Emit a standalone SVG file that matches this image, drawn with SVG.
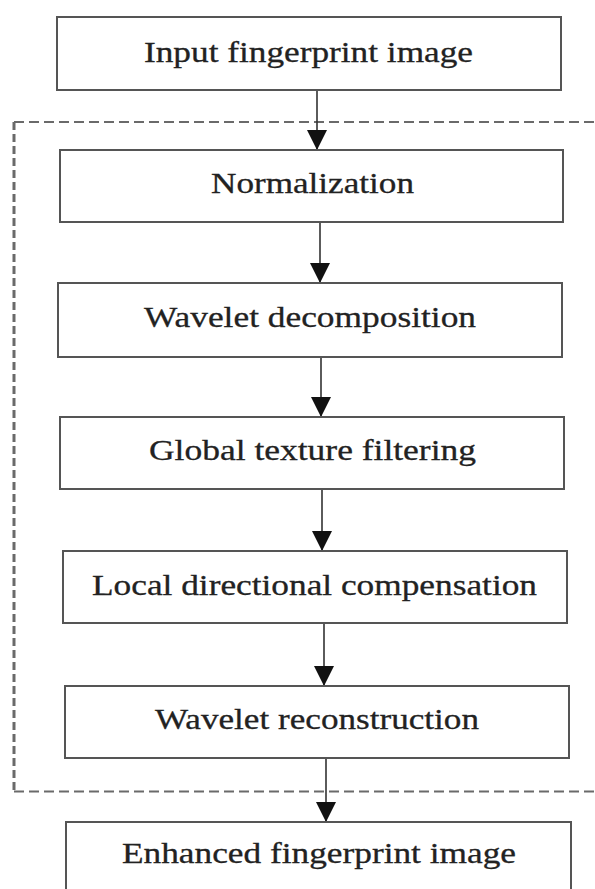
<svg xmlns="http://www.w3.org/2000/svg" width="595" height="889" viewBox="0 0 595 889">
<style>
.box{fill:#fff;stroke:#555;stroke-width:2}
.lbl{font-family:"Liberation Serif","Times New Roman",serif;font-size:30px;fill:#222;stroke:#222;stroke-width:0.3;text-anchor:start}
.conn{stroke:#333;stroke-width:1.6;fill:none}
.dashh{stroke:#6a6a6a;stroke-width:2.2;fill:none;stroke-dasharray:10 5}
.dashv{stroke:#6a6a6a;stroke-width:3;fill:none;stroke-dasharray:8 4}
</style>
<defs>
<marker id="ah" markerWidth="22" markerHeight="20" refX="22" refY="11" orient="auto" markerUnits="userSpaceOnUse" viewBox="0 0 22 22">
<path d="M0,0 L22,11 L0,22 Z" fill="#111"/>
</marker>
</defs>
<rect width="595" height="889" fill="#fff"/>
<g id="boundary">
<line class="dashh" x1="14" y1="122" x2="600" y2="122"/>
<line class="dashv" x1="14" y1="122" x2="14" y2="791"/>
<line class="dashh" x1="14" y1="791.5" x2="600" y2="791.5"/>
</g>
<g id="connectors">
<line class="conn" x1="317" y1="90" x2="317" y2="150" marker-end="url(#ah)"/>
<line class="conn" x1="320" y1="222" x2="320" y2="283" marker-end="url(#ah)"/>
<line class="conn" x1="321" y1="357" x2="321" y2="417" marker-end="url(#ah)"/>
<line class="conn" x1="322" y1="489" x2="322" y2="551" marker-end="url(#ah)"/>
<line class="conn" x1="324" y1="623" x2="324" y2="686" marker-end="url(#ah)"/>
<line class="conn" x1="326" y1="758" x2="326" y2="822" marker-end="url(#ah)"/>
</g>
<g id="n1">
<rect class="box" x="57" y="17" width="504" height="73"/>
<text class="lbl" x="144" y="62" textLength="329" lengthAdjust="spacingAndGlyphs">Input fingerprint image</text>
</g>
<g id="n2">
<rect class="box" x="60" y="150" width="503" height="72"/>
<text class="lbl" x="211" y="193" textLength="203" lengthAdjust="spacingAndGlyphs">Normalization</text>
</g>
<g id="n3">
<rect class="box" x="58" y="283" width="504" height="74"/>
<text class="lbl" x="144" y="327" textLength="332" lengthAdjust="spacingAndGlyphs">Wavelet decomposition</text>
</g>
<g id="n4">
<rect class="box" x="60" y="417" width="504" height="72"/>
<text class="lbl" x="149" y="460" textLength="327" lengthAdjust="spacingAndGlyphs">Global texture filtering</text>
</g>
<g id="n5">
<rect class="box" x="63" y="551" width="504" height="72"/>
<text class="lbl" x="92" y="595" textLength="445" lengthAdjust="spacingAndGlyphs">Local directional compensation</text>
</g>
<g id="n6">
<rect class="box" x="65" y="686" width="504" height="72"/>
<text class="lbl" x="155" y="729" textLength="324" lengthAdjust="spacingAndGlyphs">Wavelet reconstruction</text>
</g>
<g id="n7">
<rect class="box" x="66" y="822" width="505" height="74"/>
<text class="lbl" x="122" y="863" textLength="394" lengthAdjust="spacingAndGlyphs">Enhanced fingerprint image</text>
</g>
</svg>
